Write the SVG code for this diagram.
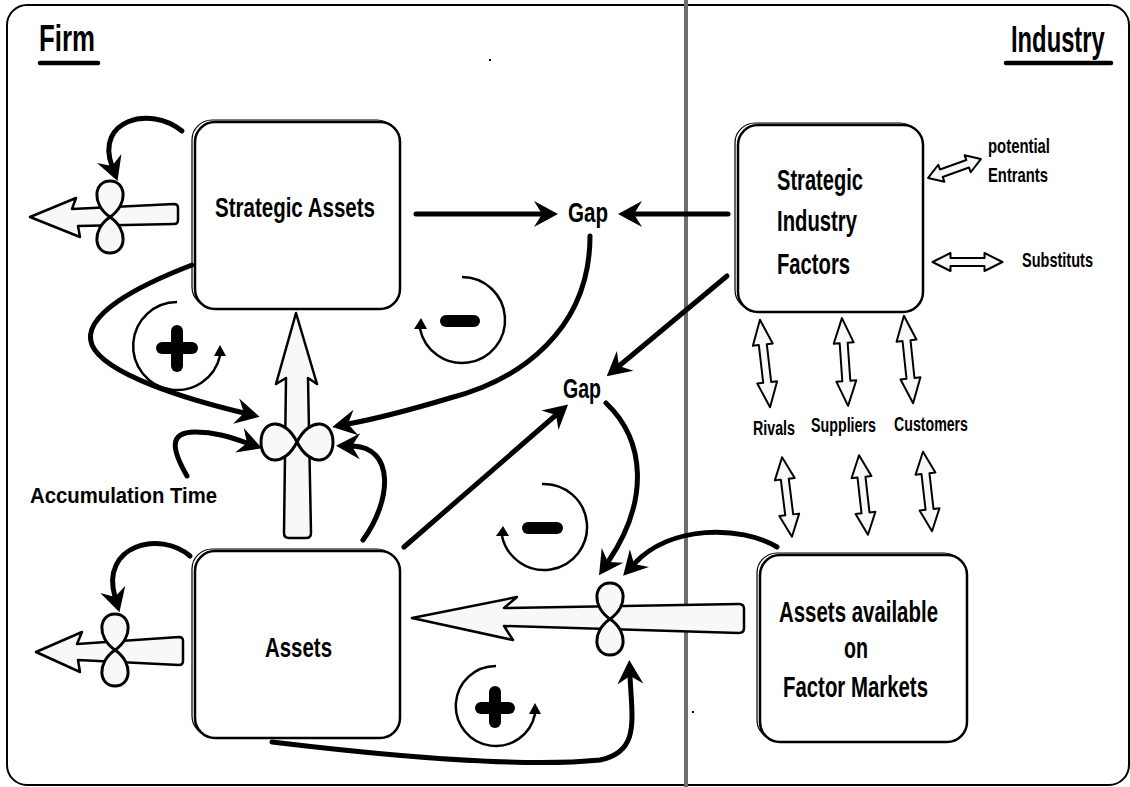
<svg xmlns="http://www.w3.org/2000/svg" xmlns:xlink="http://www.w3.org/1999/xlink" width="1130" height="787" viewBox="0 0 1130 787">
  <style>
    .lbl { font-family: "Liberation Sans", Arial, sans-serif; font-weight: bold; fill: #000; }
    .box { fill: #fff; stroke: #000; stroke-width: 2.5; }
    .box2 { fill: none; stroke: #000; stroke-width: 1.2; }
    .pipe { fill: #f8f8f8; stroke: #000; stroke-width: 2.5; stroke-linejoin: round; }
    .valve { fill: #f8f8f8; stroke: #000; stroke-width: 3; stroke-linejoin: round; }
    .link { fill: none; stroke: #000; stroke-width: 5; stroke-linecap: round; marker-end: url(#ah); }
    .loop { fill: none; stroke: #000; stroke-width: 2.5; }
    .sign { stroke: #000; stroke-width: 12; stroke-linecap: round; }
    .dbl { fill: #f8f8f8; stroke: #000; stroke-width: 2; stroke-linejoin: round; }
  </style>
  <defs>
    <marker id="ah" markerUnits="userSpaceOnUse" markerWidth="30" markerHeight="30" viewBox="-2 -15 30 30" refX="8" refY="0" orient="auto">
      <path d="M0,-13 L24,0 L0,13 L8,0 Z" fill="#000"/>
    </marker>
    <!-- vertical figure-eight valve -->
    <path id="valveV" d="M0,0 C19,-13 16,-36 0,-36 C-16,-36 -19,-13 0,0 C19,13 16,36 0,36 C-16,36 -19,13 0,0 Z"/>
    <!-- horizontal bow-tie valve -->
    <path id="valveH" d="M0,0 C-13,-26 -36,-22 -36,0 C-36,22 -13,26 0,0 C13,-26 36,-22 36,0 C36,22 13,26 0,0 Z"/>
    <!-- hollow double-headed arrows of several lengths -->
    <polygon id="dbl28" points="-28,0 -14,-9 -14,-4 14,-4 14,-9 28,0 14,9 14,4 -14,4 -14,9"/>
    <polygon id="dbl35" points="-35,0 -17,-9 -17,-4 17,-4 17,-9 35,0 17,9 17,4 -17,4 -17,9"/>
    <polygon id="dbl40" points="-40,0 -18,-10 -18,-4 18,-4 18,-10 40,0 18,10 18,4 -18,4 -18,10"/>
    <polygon id="dbl44" points="-44,0 -19,-10 -19,-4 19,-4 19,-10 44,0 19,10 19,4 -19,4 -19,10"/>
  </defs>

  <rect width="1130" height="787" fill="#fff"/>

  <!-- frame and Firm / Industry divider -->
  <rect x="7" y="5" width="1122" height="780" rx="20" fill="none" stroke="#000" stroke-width="2"/>
  <line x1="686" y1="0" x2="686" y2="787" stroke="#6e6e6e" stroke-width="4"/>
  <rect x="489" y="59" width="2" height="2" fill="#000"/>
  <rect x="692" y="711" width="2" height="2" fill="#000"/>

  <g id="title-firm">
    <text class="lbl" x="39" y="51" font-size="36" textLength="56" lengthAdjust="spacingAndGlyphs">Firm</text>
    <line x1="40" y1="63" x2="98" y2="63" stroke="#000" stroke-width="4.5" stroke-linecap="round"/>
  </g>
  <g id="title-industry">
    <text class="lbl" transform="translate(1011,52) scale(0.66,1)" font-size="36">Industry</text>
    <line x1="1006" y1="63" x2="1111" y2="63" stroke="#000" stroke-width="4.5" stroke-linecap="round"/>
  </g>

  <!-- stock nodes -->
  <g id="node-strategic-assets">
    <rect class="box2" x="192" y="120" width="205" height="187" rx="20"/>
    <rect class="box" x="195" y="122" width="205" height="187" rx="20"/>
    <text class="lbl" x="215" y="217" font-size="28" textLength="160" lengthAdjust="spacingAndGlyphs">Strategic Assets</text>
  </g>
  <g id="node-strategic-industry-factors">
    <rect class="box2" x="735" y="123" width="185" height="187" rx="20"/>
    <rect class="box" x="738" y="125" width="185" height="187" rx="20"/>
    <text class="lbl" x="777" y="190" font-size="30" textLength="86" lengthAdjust="spacingAndGlyphs">Strategic</text>
    <text class="lbl" x="777" y="231" font-size="30" textLength="80" lengthAdjust="spacingAndGlyphs">Industry</text>
    <text class="lbl" x="777" y="274" font-size="30" textLength="73" lengthAdjust="spacingAndGlyphs">Factors</text>
  </g>
  <g id="node-assets">
    <rect class="box2" x="192" y="549" width="205" height="187" rx="20"/>
    <rect class="box" x="195" y="551" width="205" height="187" rx="20"/>
    <text class="lbl" x="265" y="657" font-size="28" textLength="67" lengthAdjust="spacingAndGlyphs">Assets</text>
  </g>
  <g id="node-factor-markets">
    <rect class="box2" x="757" y="553" width="207" height="187" rx="20"/>
    <rect class="box" x="760" y="555" width="207" height="187" rx="20"/>
    <text class="lbl" x="779" y="622" font-size="30" textLength="159" lengthAdjust="spacingAndGlyphs">Assets available</text>
    <text class="lbl" x="844" y="658" font-size="30" textLength="24" lengthAdjust="spacingAndGlyphs">on</text>
    <text class="lbl" x="783" y="697" font-size="30" textLength="145" lengthAdjust="spacingAndGlyphs">Factor Markets</text>
  </g>

  <g id="node-gap-upper">
    <text class="lbl" x="568" y="222" font-size="28" textLength="40" lengthAdjust="spacingAndGlyphs">Gap</text>
  </g>
  <g id="node-gap-lower">
    <text class="lbl" x="563" y="398" font-size="28" textLength="38" lengthAdjust="spacingAndGlyphs">Gap</text>
  </g>
  <g id="node-accumulation-time">
    <text class="lbl" x="30" y="503" font-size="22" textLength="187" lengthAdjust="spacingAndGlyphs">Accumulation Time</text>
  </g>

  <!-- industry forces -->
  <g id="node-forces">
    <text class="lbl" x="988" y="153" font-size="21" textLength="62" lengthAdjust="spacingAndGlyphs">potential</text>
    <text class="lbl" x="988" y="182" font-size="21" textLength="60" lengthAdjust="spacingAndGlyphs">Entrants</text>
    <text class="lbl" x="1022" y="267" font-size="21" textLength="71" lengthAdjust="spacingAndGlyphs">Substituts</text>
    <text class="lbl" x="753" y="435" font-size="20" textLength="42" lengthAdjust="spacingAndGlyphs">Rivals</text>
    <text class="lbl" x="811" y="432" font-size="20" textLength="65" lengthAdjust="spacingAndGlyphs">Suppliers</text>
    <text class="lbl" x="894" y="431" font-size="20" textLength="74" lengthAdjust="spacingAndGlyphs">Customers</text>
  </g>

  <!-- material flows (pipes) -->
  <g id="flows">
    <path class="pipe" d="M30,217 L76,198 L72,209 L174,204 Q178,204 178,208 L178,220 Q178,224 174,224 L78,226 L80,237 Z"/>
    <path class="pipe" d="M36,652 L82,632 L77,644 L179,637 Q183,637 183,641 L183,661 Q183,665 179,665 L78,660 L80,672 Z"/>
    <path class="pipe" d="M296,313 L317,384 L308,378 L311,533 Q311,538 306,538 L289,538 Q284,538 284,533 L286,378 L276,384 Z"/>
    <path class="pipe" d="M412,618 L517,597 L504,608 L739,604 Q744,604 744,609 L744,628 Q744,633 739,633 L504,626 L513,640 Z"/>
  </g>

  <!-- flow valves -->
  <g id="valves">
    <use xlink:href="#valveV" class="valve" transform="translate(110,217)"/>
    <use xlink:href="#valveV" class="valve" transform="translate(115,650)"/>
    <use xlink:href="#valveH" class="valve" transform="translate(297,442)"/>
    <use xlink:href="#valveV" class="valve" transform="translate(610,619)"/>
  </g>

  <!-- hollow two-way arrows of the industry forces -->
  <g id="force-arrows">
    <use xlink:href="#dbl28" class="dbl" transform="translate(954.5,168.5) rotate(-19.7)"/>
    <use xlink:href="#dbl35" class="dbl" transform="translate(967.5,262)"/>
    <use xlink:href="#dbl44" class="dbl" transform="translate(765,363.5) rotate(83.4)"/>
    <use xlink:href="#dbl44" class="dbl" transform="translate(845,362) rotate(86)"/>
    <use xlink:href="#dbl44" class="dbl" transform="translate(908.5,359.5) rotate(84)"/>
    <use xlink:href="#dbl40" class="dbl" transform="translate(787,497) rotate(82.9)"/>
    <use xlink:href="#dbl40" class="dbl" transform="translate(863.5,495) rotate(83.6)"/>
    <use xlink:href="#dbl40" class="dbl" transform="translate(927.5,491.5) rotate(83.5)"/>
  </g>

  <!-- information links -->
  <g id="connectors">
    <path class="link" d="M416,214 L542,214"/>
    <path class="link" d="M728,214 L634,214"/>
    <path class="link" d="M727,276 L619,366"/>
    <path class="link" d="M404,547 L556,415"/>
    <path class="link" d="M182,131 C150,105 95,120 112,166"/>
    <path class="link" d="M190,556 C160,530 100,545 115,597"/>
    <path class="link" d="M192,265 C140,285 80,315 92,345 C105,375 190,400 244,413"/>
    <path class="link" d="M187,476 C172,450 168,432 195,432 C215,432 230,437 247,443"/>
    <path class="link" d="M590,236 C590,330 520,380 450,398 C410,410 380,418 348,424"/>
    <path class="link" d="M363,540 C392,500 395,447 352,446"/>
    <path class="link" d="M606,403 C645,440 650,500 608,562"/>
    <path class="link" d="M777,547 C740,525 670,525 634,564"/>
    <path class="link" d="M272,742 C380,755 520,768 600,760 C640,752 632,720 630,676"/>
  </g>

  <!-- feedback loop markers -->
  <g id="loop-plus-upper">
    <path class="loop" d="M177,302 A44,44 0 1 0 220,356"/>
    <polygon points="214,356 226,356 220,345" fill="#000"/>
    <line class="sign" x1="162" y1="348" x2="192" y2="348"/>
    <line class="sign" x1="177" y1="331" x2="177" y2="366"/>
  </g>
  <g id="loop-minus-upper">
    <path class="loop" d="M462,277 A43,43 0 1 1 420,329"/>
    <polygon points="414,329 427,329 421,318" fill="#000"/>
    <line class="sign" x1="446" y1="321" x2="474" y2="321"/>
  </g>
  <g id="loop-minus-lower">
    <path class="loop" d="M542,484 A43,43 0 1 1 502,536"/>
    <polygon points="496,536 509,536 503,526" fill="#000"/>
    <line class="sign" x1="528" y1="528" x2="557" y2="528"/>
  </g>
  <g id="loop-plus-lower">
    <path class="loop" d="M496,666 A40,40 0 1 0 535,714"/>
    <polygon points="529,714 541,714 535,703" fill="#000"/>
    <line class="sign" x1="481" y1="708" x2="509" y2="708"/>
    <line class="sign" x1="495" y1="692" x2="495" y2="722"/>
  </g>
</svg>
